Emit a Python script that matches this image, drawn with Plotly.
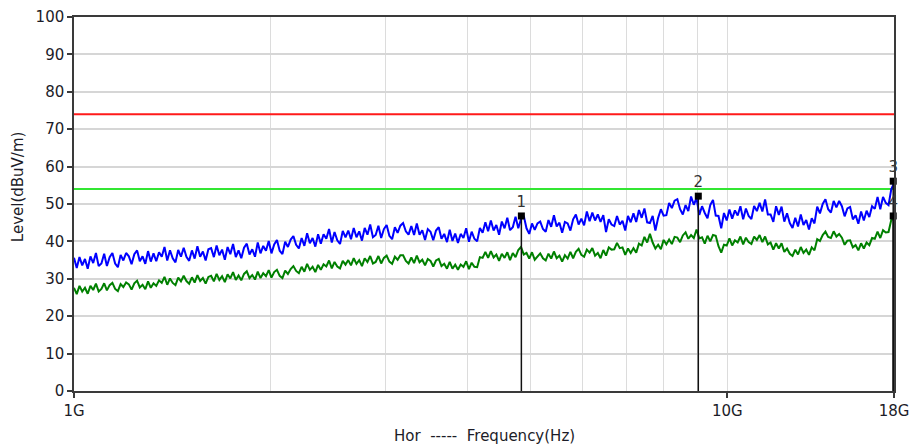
import numpy as np
import plotly.graph_objects as go

# Sweep: 300 log-spaced points from 1 GHz to 18 GHz
freq_start_hz = 1e9
freq_stop_hz = 18e9
n_points = 300
freqs = np.geomspace(freq_start_hz, freq_stop_hz, n_points)

# Peak detector reading (dBuV/m)
peak_level = [
    35.6, 32.9, 35.8, 33.6, 35.3, 32.7, 36.0, 34.2, 36.9, 33.4,
    34.1, 36.7, 33.4, 35.8, 36.9, 34.1, 33.1, 36.4, 34.9, 36.9,
    36.0, 33.9, 36.6, 37.6, 34.7, 36.0, 34.0, 37.4, 34.6, 36.8,
    34.7, 37.1, 35.9, 38.5, 34.9, 37.6, 35.5, 34.4, 37.7, 35.9,
    38.3, 35.9, 34.8, 37.6, 35.4, 38.7, 35.9, 37.3, 34.9, 37.9,
    38.2, 35.8, 38.9, 36.3, 37.8, 35.1, 38.5, 36.6, 39.3, 35.8,
    37.6, 35.5, 38.3, 39.4, 36.5, 37.9, 35.9, 39.7, 36.8, 38.8,
    37.5, 40.1, 36.8, 39.2, 40.4, 37.5, 36.6, 39.9, 38.5, 40.5,
    41.4, 39.1, 38.1, 40.9, 38.8, 42.2, 39.5, 40.9, 38.6, 41.9,
    39.4, 41.9, 40.7, 43.3, 39.7, 42.5, 40.3, 39.3, 42.8, 41.1,
    42.9, 40.6, 43.6, 41.1, 42.7, 40.2, 43.6, 41.8, 44.5, 41.1,
    41.7, 44.2, 40.9, 43.3, 44.4, 41.5, 40.6, 43.8, 42.3, 44.2,
    44.9, 42.7, 41.8, 44.1, 41.7, 44.8, 41.8, 43.0, 40.4, 43.3,
    42.6, 40.3, 42.9, 43.8, 40.7, 42.0, 39.8, 43.1, 40.1, 42.1,
    39.6, 42.0, 40.9, 43.5, 39.9, 42.6, 40.7, 40.0, 43.6, 42.3,
    45.1, 42.7, 45.6, 42.9, 44.4, 41.8, 45.3, 43.5, 46.3, 43.0,
    43.8, 46.6, 43.5, 46.0, 46.8, 43.5, 42.0, 44.8, 43.1, 44.8,
    45.3, 43.3, 42.6, 45.7, 43.9, 47.0, 44.0, 45.0, 42.3, 45.2,
    44.8, 42.9, 45.9, 47.2, 44.5, 46.1, 44.3, 48.0, 45.4, 47.7,
    45.6, 47.2, 45.2, 47.0, 42.5, 45.9, 44.5, 44.1, 46.8, 44.5,
    45.5, 42.9, 46.8, 45.1, 47.5, 45.2, 48.4, 46.3, 48.8, 45.1,
    44.9, 46.8, 42.9, 46.3, 48.6, 46.9, 47.0, 50.3, 48.9, 50.9,
    51.3, 48.6, 47.2, 49.7, 48.1, 52.0, 49.8, 51.6, 47.1, 49.4,
    47.6, 46.2, 49.7, 51.1, 46.9, 46.8, 43.5, 47.6, 45.6, 48.5,
    46.1, 48.3, 46.9, 49.4, 45.9, 48.8, 46.8, 46.0, 49.5, 48.1,
    50.3, 48.0, 51.2, 47.2, 47.2, 45.2, 49.4, 47.1, 49.3, 45.3,
    47.5, 44.9, 43.6, 46.3, 44.0, 47.2, 44.4, 45.7, 43.2, 46.2,
    44.8, 49.3, 47.5, 50.0, 51.3, 48.6, 47.7, 50.8, 49.1, 50.8,
    49.4, 46.7, 48.8, 49.2, 45.9, 47.0, 44.7, 48.0, 45.6, 48.2,
    46.5, 49.4, 48.7, 51.9, 48.6, 51.9, 50.3, 49.7, 53.9, 55.6,
]

# Average detector reading (dBuV/m)
avg_level = [
    27.6, 25.9, 28.1, 26.6, 27.6, 26.0, 28.1, 27.0, 28.7, 26.6,
    27.3, 28.8, 26.9, 28.3, 28.9, 27.3, 26.7, 28.6, 27.8, 29.0,
    28.5, 27.1, 28.8, 29.5, 27.7, 28.4, 27.2, 29.3, 27.6, 28.8,
    28.1, 29.6, 28.9, 30.5, 28.4, 30.1, 28.9, 28.3, 30.3, 29.3,
    30.8, 29.4, 28.7, 30.4, 29.0, 31.0, 29.4, 30.2, 28.7, 30.5,
    30.8, 29.3, 31.3, 29.7, 30.7, 29.1, 31.2, 30.1, 31.8, 29.7,
    30.9, 29.6, 31.3, 32.0, 30.2, 31.0, 29.8, 31.9, 30.2, 31.5,
    30.7, 32.3, 30.3, 31.8, 32.4, 30.8, 30.2, 32.2, 31.3, 32.6,
    33.4, 32.1, 31.5, 33.2, 31.9, 34.0, 32.4, 33.2, 31.8, 33.7,
    32.4, 33.9, 33.3, 34.9, 32.8, 34.5, 33.3, 32.8, 34.8, 33.8,
    35.0, 33.6, 35.5, 34.0, 35.0, 33.4, 35.5, 34.5, 36.1, 34.1,
    34.5, 36.1, 34.1, 35.6, 36.2, 34.6, 34.0, 35.9, 35.1, 36.3,
    36.3, 34.8, 34.1, 35.7, 34.2, 36.2, 34.4, 35.1, 33.6, 35.3,
    34.8, 33.3, 34.9, 35.3, 33.4, 34.0, 32.7, 34.5, 32.7, 33.8,
    32.4, 33.8, 33.2, 34.7, 32.6, 34.3, 33.2, 33.1, 35.8, 35.6,
    37.2, 35.6, 37.4, 35.7, 36.5, 34.8, 36.7, 35.6, 37.1, 35.0,
    36.9, 35.8, 37.7, 38.5, 36.5, 36.9, 35.4, 37.1, 35.1, 36.1,
    36.8, 35.5, 34.9, 36.7, 35.4, 37.3, 35.5, 36.2, 34.6, 36.3,
    35.4, 37.2, 35.5, 37.2, 38.0, 36.4, 35.9, 37.8, 37.0, 38.2,
    36.2, 36.9, 35.5, 37.7, 36.2, 38.4, 37.8, 37.9, 39.6, 38.2,
    38.4, 36.4, 38.1, 36.9, 38.2, 37.0, 39.4, 38.9, 41.2, 39.7,
    42.0, 39.7, 38.1, 39.1, 37.9, 40.4, 39.2, 40.5, 39.3, 41.2,
    41.0, 39.8, 41.6, 42.4, 40.7, 41.7, 40.9, 43.2, 40.8, 41.1,
    39.4, 41.5, 40.0, 41.7, 41.5, 38.7, 37.0, 39.1, 38.9, 40.8,
    38.9, 40.3, 39.7, 41.3, 39.2, 41.0, 39.8, 39.3, 41.3, 40.4,
    41.7, 39.8, 41.3, 39.2, 39.7, 37.8, 39.5, 38.1, 39.5, 37.2,
    38.1, 36.7, 36.1, 37.8, 36.5, 38.5, 36.9, 37.8, 36.4, 38.4,
    37.6, 40.6, 40.1, 41.7, 42.6, 41.2, 40.9, 42.7, 41.3, 42.0,
    41.0, 39.1, 40.2, 40.3, 38.4, 39.0, 37.6, 39.5, 38.1, 39.7,
    39.0, 40.9, 40.7, 42.6, 40.9, 43.0, 42.4, 42.5, 45.7, 46.0,
]

# Limits (dBuV/m)
peak_limit = 74
avg_limit = 54

# Marked points
marker_ids = ["1", "2", "3", "4"]
marker_freqs = [4.84e9, 9.03e9, 17.95e9, 17.95e9]
marker_levels = [46.8, 52.1, 56.1, 46.8]

# Axis ticks
x_tick_vals = [1e9, 1e10, 1.8e10]
x_tick_text = ["1G", "10G", "18G"]
x_grid_vals = [2e9, 3e9, 4e9, 5e9, 6e9, 7e9, 8e9, 9e9]

text_color = "#1c1c28"
font_family = "DejaVu Sans"
font_size = 15

fig = go.Figure()

# Limit lines
fig.add_trace(go.Scatter(
    x=[freq_start_hz, freq_stop_hz], y=[peak_limit, peak_limit],
    mode="lines", line=dict(color="#ff1a1a", width=2), hoverinfo="skip",
))
fig.add_trace(go.Scatter(
    x=[freq_start_hz, freq_stop_hz], y=[avg_limit, avg_limit],
    mode="lines", line=dict(color="#33e633", width=2), hoverinfo="skip",
))

# Measurement traces
fig.add_trace(go.Scatter(
    x=freqs, y=avg_level, mode="lines",
    line=dict(color="#008000", width=2),
))
fig.add_trace(go.Scatter(
    x=freqs, y=peak_level, mode="lines",
    line=dict(color="#0000ff", width=2),
))

# Marker drop lines
for f, lv in zip(marker_freqs, marker_levels):
    fig.add_trace(go.Scatter(
        x=[f, f], y=[0, lv], mode="lines",
        line=dict(color="#111111", width=1.5), hoverinfo="skip",
    ))

# Marker squares with their numbers
fig.add_trace(go.Scatter(
    x=marker_freqs, y=marker_levels, mode="markers+text",
    marker=dict(symbol="square", size=7, color="#000000"),
    text=marker_ids, textposition="top center",
    textfont=dict(family=font_family, size=font_size, color="#333333"),
    cliponaxis=False,
))

axis_common = dict(
    showline=True, linecolor="#3a3a3a", linewidth=1.5, mirror=True,
    ticks="outside", ticklen=5, tickcolor="#3a3a3a", tickwidth=1.5,
    tickfont=dict(family=font_family, size=font_size, color=text_color),
    zeroline=False, automargin=False,
)

fig.update_layout(
    width=911, height=445,
    margin=dict(l=74, r=17, t=17, b=54),
    paper_bgcolor="white", plot_bgcolor="white",
    showlegend=False,
    xaxis=dict(
        type="log",
        range=[np.log10(freq_start_hz), np.log10(freq_stop_hz)],
        tickvals=x_tick_vals, ticktext=x_tick_text,
        showgrid=True, gridcolor="#dcdcdc", gridwidth=1,
        minor=dict(tickvals=x_grid_vals, showgrid=True, gridcolor="#dcdcdc",
                   gridwidth=1, ticklen=0),
        **axis_common,
    ),
    yaxis=dict(
        range=[0, 100], dtick=10, tick0=0,
        showgrid=True, gridcolor="#d6d6d6", gridwidth=1.5,
        **axis_common,
    ),
    annotations=[
        dict(text="Level(dBuV/m)", textangle=-90,
             xref="paper", yref="paper", x=0, y=0.545,
             xshift=-56, xanchor="center", yanchor="middle", showarrow=False,
             font=dict(family=font_family, size=font_size, color=text_color)),
        dict(text="Hor  -----  Frequency(Hz)",
             xref="paper", yref="paper", x=0.5, y=0,
             yshift=-45, xanchor="center", yanchor="middle", showarrow=False,
             font=dict(family=font_family, size=font_size, color=text_color)),
    ],
)

fig.write_html("out.html")
